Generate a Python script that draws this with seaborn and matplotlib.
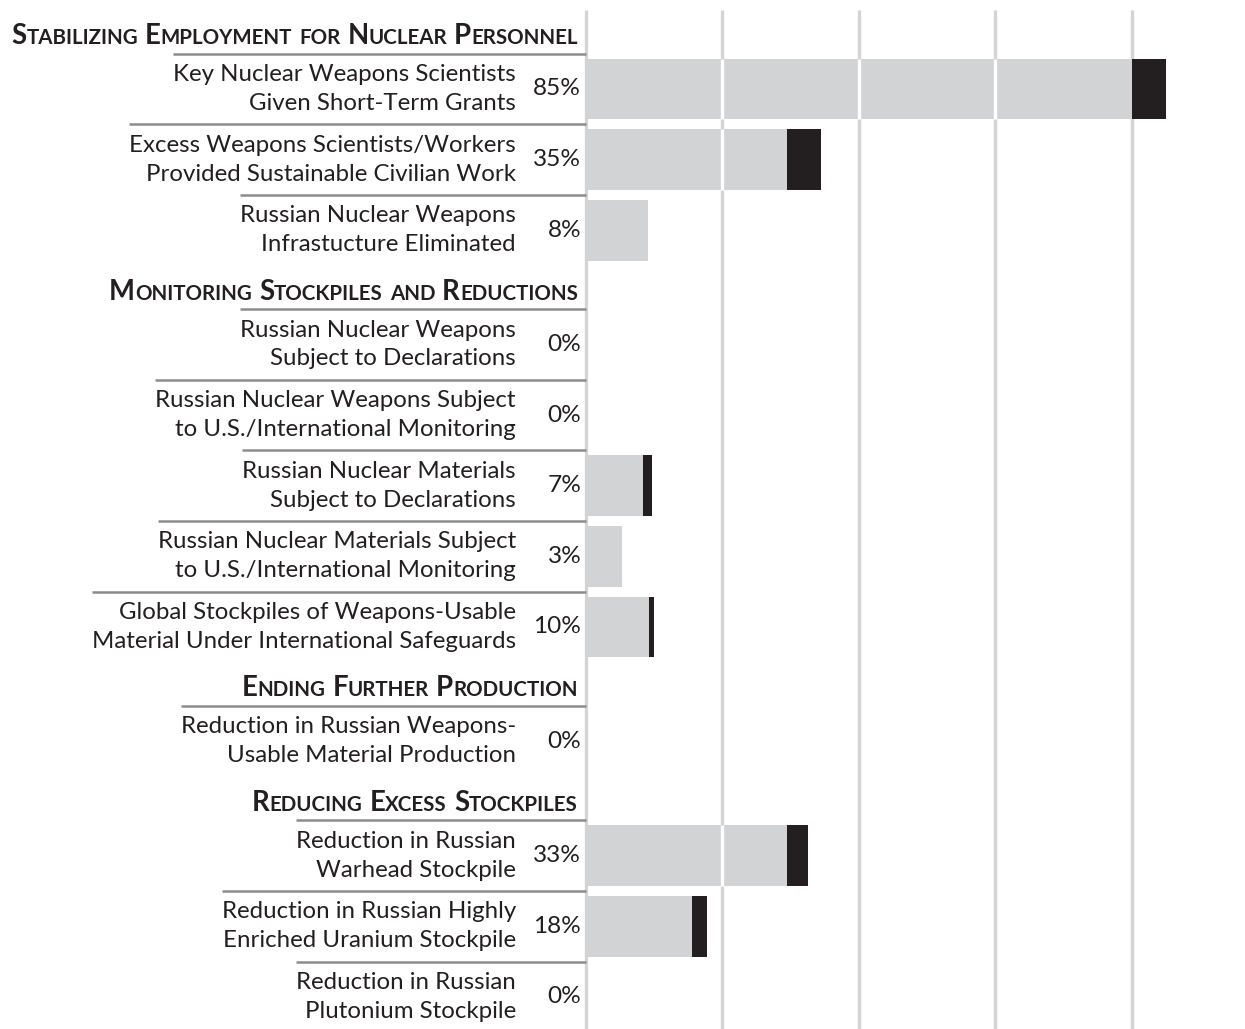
import matplotlib
matplotlib.use("Agg")
import matplotlib.pyplot as plt
from matplotlib.offsetbox import TextArea, HPacker, AnnotationBbox
import pandas as pd
import seaborn as sns


SECTIONS = [
    "Stabilizing Employment for Nuclear Personnel",
    "Monitoring Stockpiles and Reductions",
    "Ending Further Production",
    "Reducing Excess Stockpiles",
]
ITEM_SECTION = [0, 0, 0, 1, 1, 1, 1, 1, 2, 3, 3, 3]
ITEM_LABELS = [
    "Key Nuclear Weapons Scientists\nGiven Short-Term Grants",
    "Excess Weapons Scientists/Workers\nProvided Sustainable Civilian Work",
    "Russian Nuclear Weapons\nInfrastucture Eliminated",
    "Russian Nuclear Weapons\nSubject to Declarations",
    "Russian Nuclear Weapons Subject\nto U.S./International Monitoring",
    "Russian Nuclear Materials\nSubject to Declarations",
    "Russian Nuclear Materials Subject\nto U.S./International Monitoring",
    "Global Stockpiles of Weapons-Usable\nMaterial Under International Safeguards",
    "Reduction in Russian Weapons-\nUsable Material Production",
    "Reduction in Russian\nWarhead Stockpile",
    "Reduction in Russian Highly\nEnriched Uranium Stockpile",
    "Reduction in Russian\nPlutonium Stockpile",
]
PCT_LABELS = ["85%", "35%", "8%", "0%", "0%", "7%", "3%", "10%", "0%", "33%", "18%", "0%"]
# gray part = earlier progress, black part = progress added since
EARLIER = [80, 29.5, 9.1, 0, 0, 8.4, 5.3, 9.3, 0, 29.5, 15.6, 0]
CURRENT = [85, 34.5, 9.1, 0, 0, 9.7, 5.3, 10.0, 0, 32.6, 17.8, 0]
GRID_TICKS = [20, 40, 60, 80]

GRAY = "#d1d3d4"
BLACK = "#231f20"
TEXT = "#231f20"
GRID = "#d4d4d4"
RULE = "#8c8c8c"

W, H = 1245, 1029
PX = 6.82          # pixels per percentage point
X0 = 586           # pixel position of 0 %
HEADER_H = 0.62    # header slot height, in row units
BAR_H = 0.86


def layout():
    # stack headers and items top to bottom
    cursor = 0.0
    header_y, item_y = [], []
    last = None
    for sec in ITEM_SECTION:
        if sec != last:
            header_y.append(cursor + HEADER_H / 2)
            cursor += HEADER_H
            last = sec
        item_y.append(cursor + 0.5)
        cursor += 1.0
    return header_y, item_y, cursor


def small_caps(text, big=19.8, small=14.8):
    words = []
    for word in text.split():
        parts = []
        if word[0].isupper():
            parts.append(TextArea(word[0], textprops=dict(size=big, weight="bold", color=TEXT)))
            rest = word[1:]
        else:
            rest = word
        if rest:
            parts.append(TextArea(rest.upper(), textprops=dict(size=small, weight="bold", color=TEXT)))
        words.append(HPacker(children=parts, sep=0, pad=0, align="baseline"))
    return HPacker(children=words, sep=5, pad=0, align="baseline")


def main():
    sns.set_theme(style="white")
    plt.rcParams["font.family"] = ["Lato", "DejaVu Sans"]

    header_y, item_y, total = layout()
    df = pd.DataFrame({"pos": item_y, "earlier": EARLIER, "current": CURRENT})

    fig = plt.figure(figsize=(W / 100, H / 100), dpi=100)
    ax = fig.add_axes([0, 0, 1, 1])

    sns.barplot(data=df, x="current", y="pos", orient="y", native_scale=True,
                color=BLACK, width=BAR_H, linewidth=0, saturation=1,
                errorbar=None, ax=ax, zorder=2)
    sns.barplot(data=df, x="earlier", y="pos", orient="y", native_scale=True,
                color=GRAY, width=BAR_H, linewidth=0, saturation=1,
                errorbar=None, ax=ax, zorder=3)

    y_top = item_y[0] - 89 / 70.6
    y_bot = item_y[0] + (H - 89) / 70.6
    ax.set_xlim(-X0 / PX, (W - X0) / PX)
    ax.set_ylim(y_bot, y_top)
    ax.axis("off")

    ax.vlines([0] + GRID_TICKS, 0, y_bot, color=GRID, lw=2.4, zorder=1)
    for y, val in zip(item_y, EARLIER):
        for t in GRID_TICKS:
            if val > t:
                ax.vlines(t, y - BAR_H / 2, y + BAR_H / 2, color="white", lw=2.4, zorder=4)

    texts = []
    for y, lab, pct in zip(item_y, ITEM_LABELS, PCT_LABELS):
        t = ax.text(-10.3, y, lab, ha="right", va="center", multialignment="right",
                    fontsize=17.3, color=TEXT, linespacing=1.46)
        texts.append(t)
        ax.text(-0.7, y, pct, ha="right", va="center", fontsize=17.6, color=TEXT)

    for y, name in zip(header_y, SECTIONS):
        ab = AnnotationBbox(small_caps(name), (-1.2, y + 0.06), xycoords="data",
                            box_alignment=(1, 0.5), frameon=False, pad=0)
        ax.add_artist(ab)

    fig.canvas.draw()
    inv = ax.transData.inverted()
    for y, t in zip(item_y, texts):
        bb = t.get_window_extent()
        x_left = inv.transform((bb.x0, 0))[0]
        ax.hlines(y - 0.5, x_left, 0, color=RULE, lw=1.8, zorder=5)

    fig.savefig("out.png", dpi=100)
    plt.close(fig)


if __name__ == "__main__":
    main()
